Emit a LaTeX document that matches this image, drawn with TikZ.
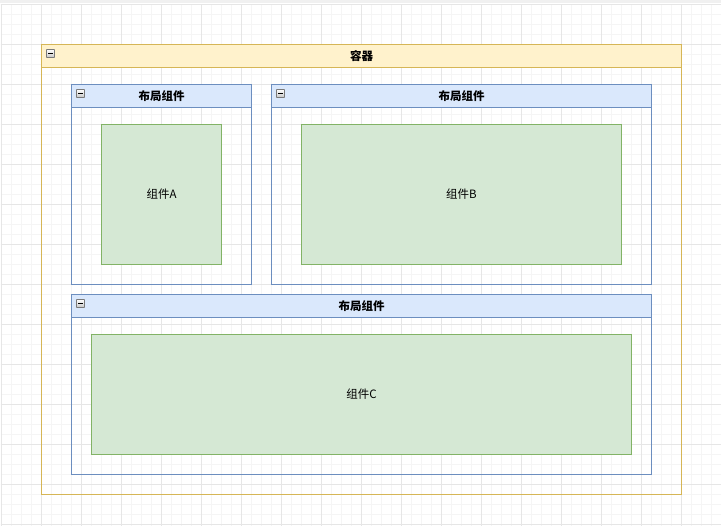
\documentclass[tikz,border=0pt]{standalone}
\usepackage{fontspec}
\newfontfamily\cjk{Noto Sans CJK SC}
\definecolor{ylwfill}{HTML}{FFF2CC}
\definecolor{ylwline}{HTML}{D6B656}
\definecolor{bluefill}{HTML}{DAE8FC}
\definecolor{blueline}{HTML}{6C8EBF}
\definecolor{grnfill}{HTML}{D5E8D4}
\definecolor{grnline}{HTML}{82B366}
\definecolor{gridminor}{HTML}{F5F5F5}
\definecolor{gridmajor}{HTML}{E6E6E6}
\definecolor{iconline}{HTML}{7A7A7A}
\begin{document}
\begin{tikzpicture}[x=1pt,y=-1pt,
  every node/.style={font=\cjk\fontsize{11.5}{13}\selectfont, inner sep=0pt},
  boxframe/.style={line width=1.15pt},
  hdrtext/.style={font=\cjk\bfseries\fontsize{11.5}{13}\selectfont},
  comp/.style={draw=grnline, fill=grnfill, line width=1.15pt},
  icon/.style={draw=iconline, line width=0.8pt, top color=white, bottom color=gray!45, minimum width=8pt, minimum height=8pt, rounded corners=0.5pt}
]
\useasboundingbox (0,0) rectangle (721,526);
\fill[white] (0,0) rectangle (721,526);
\begin{scope}[shift={(0.5,0.5)}]
% grid
\foreach \gx in {1,11,...,721} \draw[gridminor, line width=1pt] (\gx,4) -- (\gx,526);
\foreach \gy in {4,14,...,526} \draw[gridminor, line width=1pt] (0,\gy) -- (721,\gy);
\foreach \gx in {1,41,...,721} \draw[gridmajor, line width=1pt] (\gx,4) -- (\gx,526);
\foreach \gy in {4,44,...,526} \draw[gridmajor, line width=1pt] (0,\gy) -- (721,\gy);

% container
\draw[boxframe, draw=ylwline] (41,44) rectangle (681,494);
\filldraw[boxframe, draw=ylwline, fill=ylwfill] (41,44) rectangle (681,67);
\node[hdrtext] (ct) at (361,56) {容器};
\node[icon] (ci) at (50,53) {};
\draw[line width=1pt] (47.5,53) -- (52.5,53);

% layout 1
\draw[boxframe, draw=blueline] (71,84) rectangle (251,284);
\filldraw[boxframe, draw=blueline, fill=bluefill] (71,84) rectangle (251,107);
\node[hdrtext] (l1) at (161,96) {布局组件};
\node[icon] (i1) at (80,93) {};
\draw[line width=1pt] (77.5,93) -- (82.5,93);
\draw[comp] (101,124) rectangle (221,264);
\node (a) at (161,194) {组件A};

% layout 2
\draw[boxframe, draw=blueline] (271,84) rectangle (651,284);
\filldraw[boxframe, draw=blueline, fill=bluefill] (271,84) rectangle (651,107);
\node[hdrtext] (l2) at (461,96) {布局组件};
\node[icon] (i2) at (280,93) {};
\draw[line width=1pt] (277.5,93) -- (282.5,93);
\draw[comp] (301,124) rectangle (621,264);
\node (b) at (461,194) {组件B};

% layout 3
\draw[boxframe, draw=blueline] (71,294) rectangle (651,474);
\filldraw[boxframe, draw=blueline, fill=bluefill] (71,294) rectangle (651,317);
\node[hdrtext] (l3) at (361,306) {布局组件};
\node[icon] (i3) at (80,303) {};
\draw[line width=1pt] (77.5,303) -- (82.5,303);
\draw[comp] (91,334) rectangle (631,454);
\node (c) at (361,394) {组件C};
\end{scope}
\fill[gray!12] (0,0) rectangle (721,3);
\end{tikzpicture}
\end{document}
